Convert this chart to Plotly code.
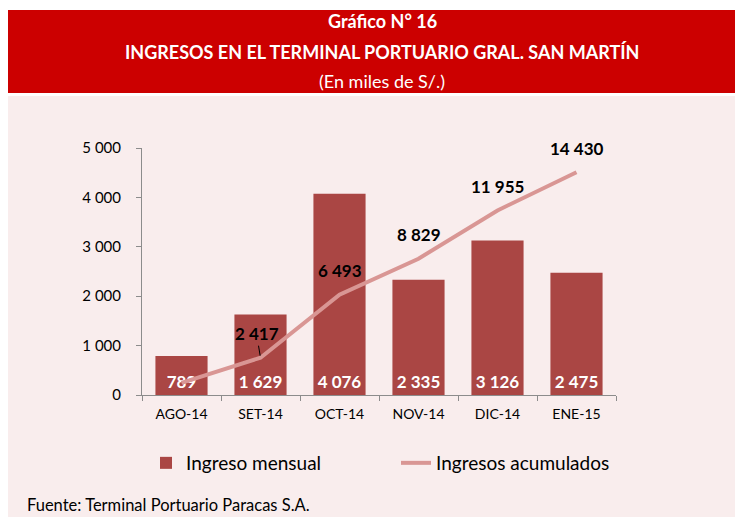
import plotly.graph_objects as go

categories = ["AGO-14", "SET-14", "OCT-14", "NOV-14", "DIC-14", "ENE-15"]
ingreso_mensual = [789, 1629, 4076, 2335, 3126, 2475]
ingresos_acumulados = [789, 2417, 6493, 8829, 11955, 14430]
y_ticks = [0, 1000, 2000, 3000, 4000, 5000]

# page has an 8px body margin: figure pixel = page pixel - OFF
OFF = 8
W, H = 743 - OFF, 517 - OFF
L, R = 142 - OFF, 743 - 616
T, B = 148 - OFF, 517 - 395
PW, PH = W - L - R, H - T - B

def px_x(p):
    return (p - OFF - L) / PW

def px_y(p):
    return (H - B - (p - OFF)) / PH

BAR = "#aa4644"
LINE = "#d99694"
FONT = "Lato, 'Open Sans', sans-serif"

fig = go.Figure()
fig.add_trace(go.Bar(
    x=categories, y=ingreso_mensual, name="Ingreso mensual",
    marker=dict(color=BAR, line=dict(width=0)),
    texttemplate="%{y:,d}", textposition="inside", insidetextanchor="start",
    textfont=dict(color="white", size=17, family=FONT, weight="bold"),
    cliponaxis=False, legend="legend",
))
fig.add_trace(go.Scatter(
    x=categories, y=ingresos_acumulados, name="Ingresos acumulados",
    mode="lines", line=dict(color=LINE, width=4), yaxis="y2", legend="legend2",
))

annotations = []
for i, (c, v) in enumerate(zip(categories, ingresos_acumulados)):
    if i == 0:
        continue
    txt = f"{v:,}".replace(",", " ")
    if i == 1:
        annotations.append(dict(x=c, y=v, xref="x", yref="y2", text=f"<b>{txt}</b>",
                                showarrow=True, arrowhead=0, arrowwidth=1, arrowcolor="black",
                                ax=-4, ay=-24, standoff=2,
                                font=dict(size=17, color="black", family=FONT)))
    else:
        annotations.append(dict(x=c, y=v, xref="x", yref="y2", text=f"<b>{txt}</b>",
                                showarrow=False, yshift=24,
                                font=dict(size=17, color="black", family=FONT)))

cx = px_x(382)
annotations += [
    dict(x=cx, y=px_y(21), xref="paper", yref="paper", yanchor="middle",
         text="<b>Gráfico N° 16</b>",
         showarrow=False, font=dict(size=18, color="white", family=FONT)),
    dict(x=cx, y=px_y(52), xref="paper", yref="paper", yanchor="middle",
         text="<b>INGRESOS EN EL TERMINAL PORTUARIO GRAL. SAN MARTÍN</b>",
         showarrow=False, font=dict(size=18, color="white", family=FONT)),
    dict(x=cx, y=px_y(81), xref="paper", yref="paper", yanchor="middle",
         text="(En miles de S/.)",
         showarrow=False, font=dict(size=18, color="white", family=FONT)),
    dict(x=px_x(25), y=px_y(505), xref="paper", yref="paper", xanchor="left", yanchor="middle",
         text="Fuente: Terminal Portuario Paracas S.A.",
         showarrow=False, font=dict(size=16.5, color="black", family=FONT)),
]

shapes = [
    dict(type="rect", xref="paper", yref="paper", x0=px_x(7), x1=px_x(760),
         y0=px_y(96), y1=px_y(530), fillcolor="#f9eded", line=dict(width=0), layer="below"),
    dict(type="rect", xref="paper", yref="paper", x0=px_x(7), x1=px_x(760),
         y0=px_y(93), y1=px_y(10), fillcolor="#cc0000", line=dict(width=0), layer="below"),
]

legend_common = dict(orientation="h", xref="container", yref="container",
                     y=1 - (463 - OFF) / H, yanchor="middle", xanchor="left",
                     font=dict(size=19, family=FONT), bgcolor="rgba(0,0,0,0)")

fig.update_layout(
    width=W, height=H,
    margin=dict(l=L, r=R, t=T, b=B, autoexpand=False),
    paper_bgcolor="white", plot_bgcolor="rgba(0,0,0,0)",
    separators=", ",
    font=dict(family=FONT, color="black"),
    bargap=0.34,
    showlegend=True,
    legend=dict(x=(146 - OFF) / W, **legend_common),
    legend2=dict(x=(396 - OFF) / W, **legend_common),
    xaxis=dict(showline=True, linecolor="#8c8c8c", linewidth=1, ticks="outside",
               tickson="boundaries", ticklen=5, tickcolor="#8c8c8c",
               ticklabelstandoff=6,
               tickfont=dict(size=14, family=FONT), showgrid=False, zeroline=False),
    yaxis=dict(range=[0, 5000], tickvals=y_ticks, tickformat=",d", showline=True,
               linecolor="#8c8c8c", linewidth=1, ticks="outside", ticklen=5,
               tickcolor="#8c8c8c", tickfont=dict(size=15, family=FONT),
               ticklabelstandoff=12,
               showgrid=False, zeroline=False),
    yaxis2=dict(range=[0, 16000], overlaying="y", side="right", visible=False),
    annotations=annotations,
    shapes=shapes,
)

fig.write_html("out.html")
